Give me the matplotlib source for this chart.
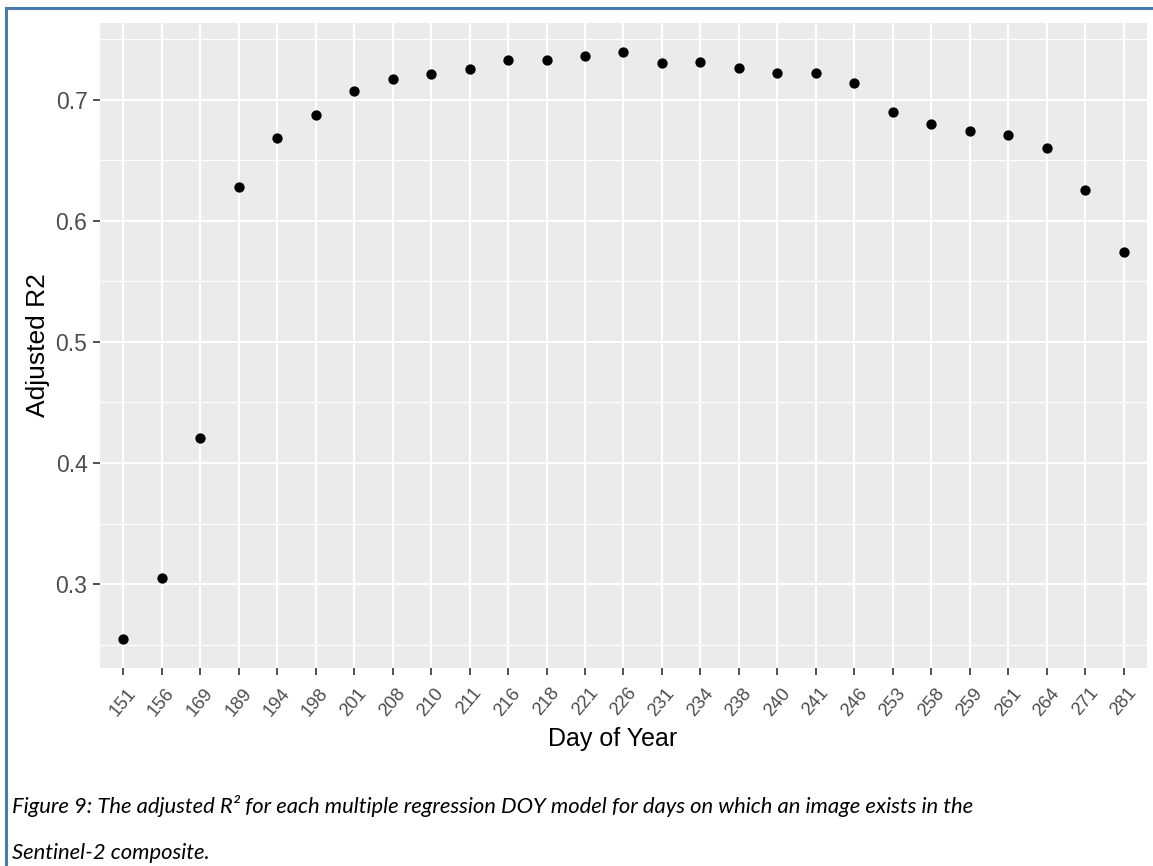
import matplotlib
matplotlib.use("Agg")
import matplotlib.pyplot as plt
from matplotlib.lines import Line2D
from matplotlib.ticker import FixedLocator
from matplotlib.transforms import ScaledTranslation

plt.rcParams["font.family"] = ["Liberation Sans", "DejaVu Sans"]

# Adjusted R2 of the multiple regression model per image day
days = ["151", "156", "169", "189", "194", "198", "201", "208", "210", "211",
        "216", "218", "221", "226", "231", "234", "238", "240", "241", "246",
        "253", "258", "259", "261", "264", "271", "281"]
adj_r2 = [0.255, 0.305, 0.421, 0.628, 0.668, 0.687, 0.707, 0.717, 0.721, 0.725,
          0.733, 0.733, 0.736, 0.739, 0.730, 0.731, 0.726, 0.722, 0.722, 0.714,
          0.690, 0.680, 0.674, 0.671, 0.660, 0.625, 0.574]
y_major = [0.3, 0.4, 0.5, 0.6, 0.7]
y_minor = [0.25, 0.35, 0.45, 0.55, 0.65, 0.75]

W, H = 1153, 866
fig = plt.figure(figsize=(W / 100, H / 100), dpi=100)
ax = fig.add_axes([100 / W, 1 - 668 / H, 1047 / W, 645 / H])

x = list(range(len(days)))
ax.scatter(x, adj_r2, s=55, color="black", linewidths=0, zorder=3)

# ggplot-like expansion: 0.6 units on discrete x, 5% on continuous y
ax.set_xlim(-0.6, len(days) - 0.4)
lo, hi = min(adj_r2), max(adj_r2)
pad = 0.05 * (hi - lo)
ax.set_ylim(lo - pad, hi + pad)

ax.set_xticks(x)
ax.set_xticklabels(days, rotation=50, ha="center", va="top")
shift = ScaledTranslation(5 / 100, 0, fig.dpi_scale_trans)
for lab in ax.get_xticklabels():
    lab.set_transform(lab.get_transform() + shift)
ax.yaxis.set_major_locator(FixedLocator(y_major))
ax.yaxis.set_minor_locator(FixedLocator(y_minor))
ax.set_yticklabels([f"{v:.1f}" for v in y_major])

ax.set_facecolor("#EBEBEB")
ax.set_axisbelow(True)
ax.grid(which="major", color="white", linewidth=1.5)
ax.grid(which="minor", axis="y", color="white", linewidth=0.8)
for s in ax.spines.values():
    s.set_visible(False)

ax.tick_params(axis="both", which="major", length=5, width=1.2, color="#333333")
ax.tick_params(axis="y", which="minor", length=0)
ax.tick_params(axis="y", labelsize=16.5, labelcolor="#4D4D4D", pad=4)
ax.tick_params(axis="x", labelsize=13.3, labelcolor="#4D4D4D", pad=7)

ax.set_ylabel("Adjusted R2", fontsize=19, va="center")
ax.yaxis.set_label_coords(-0.059, 0.5)
ax.set_xlabel("Day of Year", fontsize=18, va="center")
ax.xaxis.set_label_coords(0.49, -0.11)

# caption under the chart
cap = dict(family=["Lato", "DejaVu Sans"], style="italic", fontsize=15.8, color="black")
fig.text(12 / W, 1 - 806 / H,
         "Figure 9: The adjusted R\u00b2 for each multiple regression DOY model for days on which an image exists in the",
         va="center", ha="left", **cap)
fig.text(12 / W, 1 - 853 / H, "Sentinel-2 composite.", va="center", ha="left", **cap)

# document frame
frame = "#4A7BAA"
fig.add_artist(Line2D([6 / W, 6 / W], [0, 1 - 8 / H], color=frame, linewidth=2.2,
                      transform=fig.transFigure))
fig.add_artist(Line2D([6 / W, 1], [1 - 8 / H, 1 - 8 / H], color=frame, linewidth=2.2,
                      transform=fig.transFigure))

fig.savefig("out.png", dpi=100)
